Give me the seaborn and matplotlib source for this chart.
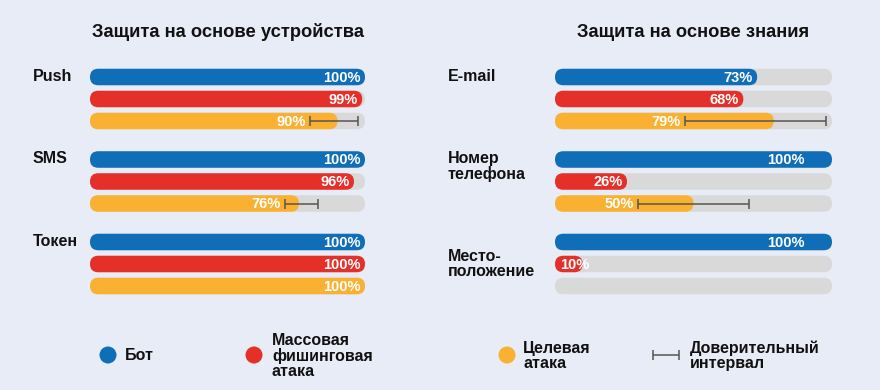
import pandas as pd
import seaborn as sns
import matplotlib.pyplot as plt
from matplotlib.patches import FancyBboxPatch

# series (legend order) and colours
series = ['Бот', 'Массовая\nфишинговая\nатака', 'Целевая\nатака']
colors = ['#106EB9', '#E5302A', '#FAB030']
track_color = '#D9D9D9'
bg = '#E8ECF6'
ci_color = '#555555'

# left panel: device-based protection
dev_title = 'Защита на основе устройства'
dev_groups = ['Push', 'SMS', 'Токен']
dev_bot = [100, 100, 100]
dev_mass = [99, 96, 100]
dev_target = [90, 76, 100]
dev_ci_low = [80, 71, None]
dev_ci_high = [97.5, 83, None]

# right panel: knowledge-based protection
know_title = 'Защита на основе знания'
know_groups = ['E-mail', 'Номер\nтелефона', 'Место-\nположение']
know_bot = [73, 100, 100]
know_mass = [68, 26, 10]
know_target = [79, 50, 0]
know_ci_low = [47, 30, None]
know_ci_high = [98, 70, None]

sns.set_theme(style='white', rc={'figure.facecolor': bg, 'axes.facecolor': bg})
plt.rcParams['font.family'] = ['Liberation Sans', 'DejaVu Sans']


def make_df(groups, bot, mass, target):
    rows = []
    for s, vals in zip(series, [bot, mass, target]):
        for g, v in zip(groups, vals):
            rows.append({'group': g, 'series': s, 'value': v})
    return pd.DataFrame(rows)


def round_bars(ax, containers, fills):
    # swap seaborn's rectangles for pill shaped patches
    p0 = ax.transData.transform((0, 0))
    p1 = ax.transData.transform((1, 1))
    px_x = abs(p1[0] - p0[0])
    px_y = abs(p1[1] - p0[1])
    for cont, fc in zip(containers, fills):
        for bar in cont:
            x, y = bar.get_x(), bar.get_y()
            w, h = bar.get_width(), bar.get_height()
            bar.remove()
            if w <= 0:
                continue
            r = (h * px_y / 2) / px_x
            aspect = (h / 2) / r
            ax.add_patch(FancyBboxPatch(
                (x, y), w, h,
                boxstyle=f'round,pad=0,rounding_size={r}',
                mutation_aspect=aspect,
                fc=fc, ec='none', zorder=2))


def panel(ax, title, groups, bot, mass, target, ci_low, ci_high,
          label_va, label_px, inner_pad):
    df = make_df(groups, bot, mass, target)
    track = df.assign(value=100)

    sns.barplot(data=track, x='value', y='group', hue='series', orient='h',
                palette=[track_color] * 3, gap=0.25, errorbar=None,
                legend=False, ax=ax)
    sns.barplot(data=df, x='value', y='group', hue='series', orient='h',
                palette=colors, gap=0.25, errorbar=None,
                legend=False, ax=ax)

    ax.set_xlim(0, 100)
    ax.set_ylim(2.6, -0.6)
    ax.set_axis_off()

    conts = list(ax.containers)
    track_conts, fill_conts = conts[:3], conts[3:]

    centers = [[b.get_y() + b.get_height() / 2 for b in c] for c in fill_conts]
    tops = [b.get_y() for b in fill_conts[0]]

    round_bars(ax, track_conts, [track_color] * 3)
    round_bars(ax, fill_conts, colors)

    # value labels
    for si, vals in enumerate([bot, mass, target]):
        for gi, v in enumerate(vals):
            if v <= 0:
                continue
            if v < 15:
                ax.annotate(f'{v}%', (0, centers[si][gi]), xytext=(3.5, -0.5),
                            textcoords='offset points', ha='left',
                            va='center', color='white', fontsize=10.5,
                            fontweight='bold', zorder=4)
                continue
            xr = v
            pad = -3
            if si == 2 and ci_low[gi] is not None:
                xr = ci_low[gi]
            elif v == 100:
                pad = -inner_pad
            ax.annotate(f'{v}%', (xr, centers[si][gi]), xytext=(pad, -0.5),
                        textcoords='offset points', ha='right', va='center',
                        color='white', fontsize=10.5, fontweight='bold',
                        zorder=4)

    # confidence intervals on the targeted-attack bars
    for gi in range(len(groups)):
        if ci_low[gi] is None:
            continue
        mid = (ci_low[gi] + ci_high[gi]) / 2
        ax.errorbar(mid, centers[2][gi], xerr=(ci_high[gi] - ci_low[gi]) / 2,
                    fmt='none', ecolor=ci_color, elinewidth=1.1,
                    capsize=3.3, capthick=1.1, zorder=5)

    # group labels to the left of the bars
    pos = ax.get_position()
    x_lab = (label_px / 880 - pos.x0) / pos.width
    for gi, g in enumerate(groups):
        y = tops[gi] if label_va[gi] == 'top' else gi
        ax.text(x_lab, y, g, transform=ax.get_yaxis_transform(), ha='left',
                va=label_va[gi], fontsize=11.5, fontweight='bold',
                linespacing=1.0, color='#111111')

    ax.annotate(title, (0.5, 1.0), xycoords='axes fraction',
                xytext=(0, 6), textcoords='offset points', ha='center',
                va='bottom', fontsize=13.2, fontweight='bold',
                color='#111111')


fig = plt.figure(figsize=(8.8, 3.9), dpi=100)
ax_l = fig.add_axes([90 / 880, 1 - 313.5 / 390, 275 / 880, 264 / 390])
ax_r = fig.add_axes([555 / 880, 1 - 313.5 / 390, 277 / 880, 264 / 390])

panel(ax_l, dev_title, dev_groups, dev_bot, dev_mass, dev_target,
      dev_ci_low, dev_ci_high, ['top', 'top', 'top'], 33, 3)
panel(ax_r, know_title, know_groups, know_bot, know_mass, know_target,
      know_ci_low, know_ci_high, ['top', 'top', 'center'], 448, 20)

# legend drawn in pixel space
leg = fig.add_axes([0, 0, 1, 1], facecolor='none')
leg.set_xlim(0, 880)
leg.set_ylim(390, 0)
leg.set_axis_off()
marker_x = [108, 254, 507]
text_x = [125, 272, 523]
for mx, tx, c, s in zip(marker_x, text_x, colors, series):
    leg.scatter(mx, 355, s=150, color=c, edgecolor='none')
    leg.text(tx, 356, s, ha='left', va='center', fontsize=11.5,
             fontweight='bold', linespacing=1.0, color='#111111')
leg.errorbar(666, 355, xerr=13, fmt='none', ecolor=ci_color, elinewidth=1.1,
             capsize=3.3, capthick=1.1)
leg.text(690, 356, 'Доверительный\nинтервал', ha='left', va='center',
         fontsize=11.5, fontweight='bold', linespacing=1.0, color='#111111')

fig.savefig('out.png', dpi=100, facecolor=bg)
